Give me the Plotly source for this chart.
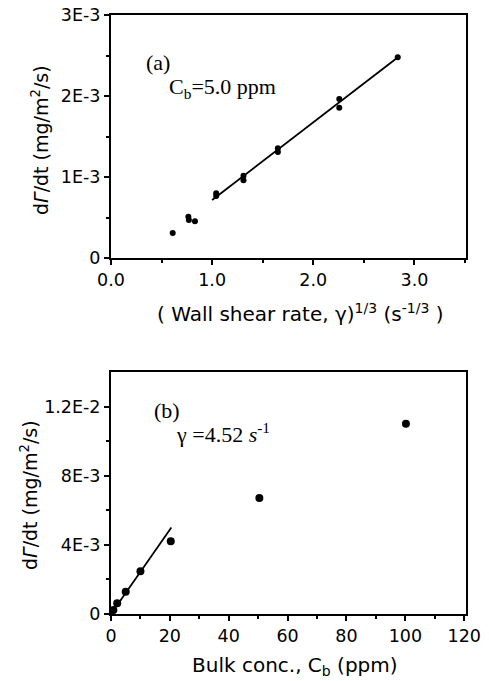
import plotly.graph_objects as go
from plotly.subplots import make_subplots

# ---- Panel (a) data ----
shear_x = [0.61, 0.765, 0.77, 0.83, 1.04, 1.04, 1.31, 1.31, 1.65, 1.65, 2.257, 2.257, 2.835]
rate_a = [0.31e-3, 0.51e-3, 0.47e-3, 0.455e-3, 0.80e-3, 0.765e-3, 1.016e-3, 0.96e-3,
          1.354e-3, 1.31e-3, 1.963e-3, 1.856e-3, 2.478e-3]
fit_a_x = [1.0, 2.85]
fit_a_y = [0.716e-3, 2.49e-3]

# ---- Panel (b) data ----
conc_x = [0.8, 2.1, 5.0, 10.0, 20.3, 50.4, 100.2]
rate_b = [0.23e-3, 0.62e-3, 1.29e-3, 2.48e-3, 4.21e-3, 6.71e-3, 11.0e-3]
fit_b_x = [0.0, 20.5]
fit_b_y = [0.0, 5.0e-3]

# tick labels
xa_vals = [0, 1, 2, 3]
xa_text = ["0.0", "1.0", "2.0", "3.0"]
ya_vals = [0, 1e-3, 2e-3, 3e-3]
ya_text = ["0", "1E-3", "2E-3", "3E-3"]
xb_vals = [0, 20, 40, 60, 80, 100, 120]
xb_text = ["0", "20", "40", "60", "80", "100", "120"]
yb_vals = [0, 4e-3, 8e-3, 12e-3]
yb_text = ["0", "4E-3", "8E-3", "1.2E-2"]

W, H = 489, 681
L, R, T, B = 111, 466, 15, 614

fig = make_subplots(rows=2, cols=1)

fig.add_trace(go.Scatter(x=shear_x, y=rate_a, mode="markers",
                         marker=dict(color="black", size=6), showlegend=False), row=1, col=1)
fig.add_trace(go.Scatter(x=fit_a_x, y=fit_a_y, mode="lines",
                         line=dict(color="black", width=1.8), showlegend=False), row=1, col=1)
fig.add_trace(go.Scatter(x=conc_x, y=rate_b, mode="markers",
                         marker=dict(color="black", size=8), showlegend=False), row=2, col=1)
fig.add_trace(go.Scatter(x=fit_b_x, y=fit_b_y, mode="lines",
                         line=dict(color="black", width=1.8), showlegend=False), row=2, col=1)

ph = B - T
top_dom = [(B - 258) / ph, 1.0]
bot_dom = [0.0, (B - 372) / ph]

tickfont = dict(family="DejaVu Sans", size=17.5, color="black")
axis_common = dict(showline=True, linecolor="black", linewidth=2, mirror=True,
                   ticks="outside", ticklen=5, tickwidth=2, tickcolor="black",
                   showgrid=False, zeroline=False, tickfont=tickfont, tickmode="array",
                   automargin=False)

fig.update_layout(
    width=W, height=H,
    margin=dict(l=L, r=W - R, t=T, b=H - B),
    plot_bgcolor="white", paper_bgcolor="white",
    xaxis=dict(axis_common, domain=[0, 1], range=[0, 3.51], tickvals=xa_vals, ticktext=xa_text,
               minor=dict(tickmode="array", tickvals=[0.5, 1.5, 2.5, 3.5], ticks="outside",
                          ticklen=3, tickwidth=1.5, tickcolor="black")),
    yaxis=dict(axis_common, domain=top_dom, range=[0, 3e-3], tickvals=ya_vals, ticktext=ya_text,
               minor=dict(tickmode="array", tickvals=[0.5e-3, 1.5e-3, 2.5e-3], ticks="outside",
                          ticklen=3, tickwidth=1.5, tickcolor="black")),
    xaxis2=dict(axis_common, domain=[0, 1], range=[0, 120.6], tickvals=xb_vals, ticktext=xb_text,
                minor=dict(tickmode="array", tickvals=[10, 30, 50, 70, 90, 110], ticks="outside",
                           ticklen=3, tickwidth=1.5, tickcolor="black")),
    yaxis2=dict(axis_common, domain=bot_dom, range=[0, 14e-3], tickvals=yb_vals, ticktext=yb_text,
                minor=dict(tickmode="array", tickvals=[2e-3, 6e-3, 10e-3], ticks="outside",
                           ticklen=3, tickwidth=1.5, tickcolor="black")),
)

def px_x(p):
    return (p - L) / (R - L)

def px_y(p):
    return (B - p) / (B - T)

yfont = dict(family="DejaVu Sans", size=19, color="black")
xfont = dict(family="DejaVu Sans", size=20, color="black")
serif = dict(family="Liberation Serif", size=22, color="black")

ann = [
    dict(text="d<i>Γ</i>/dt (mg/m<sup>2</sup>/s)", x=px_x(40), y=px_y(140), textangle=-90,
         xref="paper", yref="paper", xanchor="center", yanchor="middle",
         showarrow=False, font=yfont),
    dict(text="d<i>Γ</i>/dt (mg/m<sup>2</sup>/s)", x=px_x(29), y=px_y(495), textangle=-90,
         xref="paper", yref="paper", xanchor="center", yanchor="middle",
         showarrow=False, font=yfont),
    dict(text="( Wall shear rate, γ)<sup>1/3</sup> (s<sup>-1/3</sup> )", x=px_x(300), y=px_y(313),
         xref="paper", yref="paper", xanchor="center", yanchor="middle",
         showarrow=False, font=xfont),
    dict(text="Bulk conc., C<sub>b</sub> (ppm)", x=px_x(295), y=px_y(666),
         xref="paper", yref="paper", xanchor="center", yanchor="middle",
         showarrow=False, font=xfont),
    dict(text="(a)", x=0.33, y=2.41e-3, xref="x", yref="y", xanchor="left", yanchor="middle",
         showarrow=False, font=serif),
    dict(text="C<sub>b</sub>=5.0 ppm", x=0.55, y=2.10e-3, xref="x", yref="y", xanchor="left",
         yanchor="middle", showarrow=False, font=serif),
    dict(text="(b)", x=13.9, y=11.8e-3, xref="x2", yref="y2", xanchor="left", yanchor="middle",
         showarrow=False, font=serif),
    dict(text="γ =4.52 <i>s</i><sup>-1</sup>", x=21.4, y=10.47e-3, xref="x2", yref="y2",
         xanchor="left", yanchor="middle", showarrow=False, font=serif),
]
fig.update_layout(annotations=ann)

fig.write_html("out.html", config={"displayModeBar": False},
               post_script="document.body.style.margin='0';document.body.style.overflow='hidden';")
